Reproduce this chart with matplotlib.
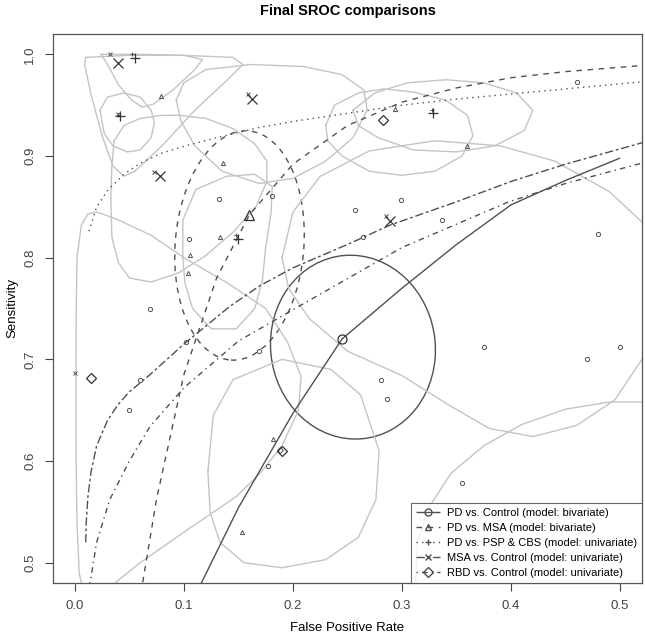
import numpy as np
import matplotlib
matplotlib.use("Agg")
import matplotlib.pyplot as plt
from matplotlib.patches import Ellipse
from matplotlib.lines import Line2D

plt.rcParams['font.family'] = ['Liberation Sans', 'DejaVu Sans']

# ---- data ----
labels = ["PD vs. Control (model: bivariate)",
          "PD vs. MSA (model: bivariate)",
          "PD vs. PSP & CBS (model: univariate)",
          "MSA vs. Control (model: univariate)",
          "RBD vs. Control (model: univariate)"]

# SROC curves (fpr, sens)
sroc_pd_ctrl = [(0.110, 0.466), (0.116, 0.480), (0.150, 0.554), (0.200, 0.647), (0.245, 0.720),
                (0.300, 0.770), (0.350, 0.813), (0.400, 0.852), (0.450, 0.876), (0.500, 0.898)]
sroc_pd_msa = [(0.060, 0.470), (0.062, 0.479), (0.075, 0.563), (0.100, 0.685), (0.130, 0.780),
               (0.160, 0.842), (0.200, 0.892), (0.250, 0.930), (0.300, 0.953), (0.350, 0.967),
               (0.400, 0.977), (0.450, 0.983), (0.520, 0.989)]
sroc_pd_psp = [(0.013, 0.826), (0.020, 0.850), (0.030, 0.866), (0.045, 0.882), (0.060, 0.893),
               (0.080, 0.903), (0.105, 0.911), (0.130, 0.918), (0.169, 0.928), (0.200, 0.934),
               (0.250, 0.942), (0.300, 0.950), (0.350, 0.956), (0.400, 0.961), (0.450, 0.966),
               (0.520, 0.973)]
sroc_msa_ctrl = [(0.010, 0.520), (0.0105, 0.540), (0.012, 0.565), (0.015, 0.590), (0.020, 0.615),
                 (0.030, 0.640), (0.040, 0.656), (0.050, 0.668), (0.069, 0.685), (0.100, 0.715),
                 (0.142, 0.752), (0.169, 0.772), (0.200, 0.790), (0.250, 0.813), (0.289, 0.832),
                 (0.350, 0.855), (0.400, 0.875), (0.450, 0.892), (0.520, 0.913)]
sroc_rbd_ctrl = [(0.012, 0.470), (0.014, 0.480), (0.020, 0.520), (0.032, 0.562), (0.050, 0.600),
                 (0.069, 0.634), (0.100, 0.672), (0.150, 0.718), (0.215, 0.758), (0.300, 0.810),
                 (0.398, 0.855), (0.450, 0.873), (0.520, 0.893)]

# confidence ellipses of the bivariate models: centre, width, height, angle
ell_pd_ctrl = (0.255, 0.712, 0.151, 0.181, 5)
ell_pd_msa = (0.151, 0.812, 0.118, 0.226, -4)

# grey confidence regions of single studies (outlines)
region_a = [(0.010, 0.997), (0.050, 0.999), (0.100, 0.999), (0.145, 0.997), (0.154, 0.990),
            (0.140, 0.975), (0.110, 0.945), (0.080, 0.910), (0.055, 0.885), (0.045, 0.880),
            (0.035, 0.890), (0.025, 0.920), (0.015, 0.960), (0.009, 0.990)]
region_b = [(0.024, 1.000), (0.060, 1.000), (0.100, 0.999), (0.117, 0.995), (0.110, 0.985),
            (0.090, 0.965), (0.072, 0.951), (0.062, 0.948), (0.052, 0.955), (0.040, 0.970),
            (0.030, 0.990)]
region_c = [(0.023, 0.945), (0.030, 0.958), (0.045, 0.962), (0.060, 0.958), (0.070, 0.945),
            (0.073, 0.933), (0.070, 0.918), (0.060, 0.906), (0.048, 0.904), (0.035, 0.910),
            (0.027, 0.922)]
region_d = [(0.093, 0.955), (0.100, 0.972), (0.120, 0.985), (0.162, 0.990), (0.210, 0.988),
            (0.245, 0.980), (0.265, 0.965), (0.268, 0.945), (0.255, 0.918), (0.230, 0.895),
            (0.200, 0.878), (0.169, 0.873), (0.135, 0.885), (0.110, 0.910), (0.097, 0.935)]
region_e = [(0.036, 0.915), (0.045, 0.930), (0.060, 0.937), (0.080, 0.940), (0.096, 0.940),
            (0.120, 0.937), (0.145, 0.927), (0.165, 0.912), (0.176, 0.895), (0.176, 0.875),
            (0.166, 0.850), (0.145, 0.825), (0.120, 0.802), (0.095, 0.785), (0.070, 0.776),
            (0.050, 0.780), (0.040, 0.795), (0.034, 0.820), (0.033, 0.860), (0.034, 0.890)]
region_f = [(0.190, 0.800), (0.200, 0.845), (0.225, 0.880), (0.270, 0.905), (0.330, 0.915),
            (0.390, 0.910), (0.440, 0.895), (0.490, 0.865), (0.530, 0.825), (0.540, 0.760),
            (0.520, 0.700), (0.495, 0.660), (0.460, 0.635), (0.420, 0.624), (0.380, 0.632),
            (0.343, 0.655), (0.300, 0.684), (0.250, 0.708), (0.215, 0.740), (0.196, 0.770)]
region_g = [(0.122, 0.590), (0.127, 0.645), (0.145, 0.680), (0.190, 0.700), (0.235, 0.690),
            (0.262, 0.665), (0.279, 0.610), (0.276, 0.562), (0.260, 0.525), (0.230, 0.503),
            (0.190, 0.495), (0.155, 0.500), (0.133, 0.520), (0.124, 0.550)]
region_j = [(0.230, 0.930), (0.238, 0.950), (0.260, 0.962), (0.283, 0.966), (0.310, 0.963),
            (0.340, 0.955), (0.360, 0.940), (0.365, 0.920), (0.355, 0.900), (0.330, 0.885),
            (0.300, 0.881), (0.270, 0.885), (0.245, 0.900), (0.232, 0.915)]
region_k = [(0.255, 0.945), (0.275, 0.962), (0.305, 0.972), (0.340, 0.975), (0.375, 0.972),
            (0.405, 0.962), (0.420, 0.945), (0.412, 0.925), (0.385, 0.910), (0.350, 0.904),
            (0.310, 0.906), (0.278, 0.918), (0.260, 0.930)]
region_l = [(0.099, 0.800), (0.099, 0.837), (0.111, 0.867), (0.139, 0.880), (0.165, 0.882),
            (0.181, 0.870), (0.180, 0.845), (0.175, 0.810), (0.172, 0.778), (0.165, 0.750),
            (0.148, 0.730), (0.125, 0.730), (0.108, 0.750), (0.101, 0.775)]
region_h = [(0.008, 0.470), (0.004, 0.490), (0.002, 0.540), (0.0012, 0.600), (0.0011, 0.680),
            (0.0013, 0.750), (0.002, 0.800), (0.006, 0.832), (0.012, 0.843), (0.020, 0.845),
            (0.038, 0.838), (0.070, 0.822), (0.100, 0.800), (0.140, 0.775), (0.175, 0.750),
            (0.195, 0.717), (0.2075, 0.683), (0.205, 0.650), (0.190, 0.615), (0.170, 0.588),
            (0.148, 0.565), (0.100, 0.530), (0.060, 0.500), (0.039, 0.482), (0.028, 0.470)]
region_i = [(0.312, 0.470), (0.314, 0.520), (0.325, 0.555), (0.345, 0.588), (0.375, 0.615),
            (0.410, 0.636), (0.450, 0.651), (0.490, 0.658), (0.530, 0.658)]
closed_regions = [region_a, region_b, region_c, region_d, region_e, region_f, region_g,
                  region_j, region_k, region_l]
open_regions = [region_h, region_i]

# study points (small) and single-study points (large)
pts_pd_ctrl = [(0.132, 0.858), (0.181, 0.861), (0.257, 0.847), (0.299, 0.857), (0.264, 0.820),
               (0.337, 0.837), (0.069, 0.750), (0.050, 0.650), (0.060, 0.680), (0.102, 0.717),
               (0.105, 0.818), (0.169, 0.708), (0.177, 0.595), (0.281, 0.680), (0.286, 0.661),
               (0.375, 0.712), (0.480, 0.823), (0.470, 0.700), (0.500, 0.712), (0.355, 0.578),
               (0.460, 0.973)]
pts_pd_msa = [(0.079, 0.959), (0.136, 0.893), (0.294, 0.946), (0.360, 0.910), (0.133, 0.820),
              (0.106, 0.803), (0.104, 0.785), (0.182, 0.622), (0.153, 0.530)]
pts_pd_psp = [(0.052, 1.000), (0.148, 0.822), (0.3275, 0.945), (0.040, 0.940)]
pts_msa_ctrl = [(0.032, 1.000), (0.073, 0.884), (0.159, 0.961), (0.285, 0.841), (0.000, 0.687),
                (0.040, 0.941)]
pts_rbd_ctrl = [(0.188, 0.611)]
sum_pd_ctrl = [(0.245, 0.720)]
sum_pd_msa = [(0.160, 0.842)]
sum_pd_psp = [(0.041, 0.939), (0.055, 0.996), (0.150, 0.818), (0.328, 0.942)]
sum_msa_ctrl = [(0.040, 0.9915), (0.078, 0.880), (0.162, 0.956), (0.289, 0.836)]
sum_rbd_ctrl = [(0.015, 0.682), (0.190, 0.610), (0.283, 0.935)]

# ---- drawing ----
W, H = 645, 637
fig = plt.figure(figsize=(W / 100, H / 100), dpi=100)
ax = fig.add_axes([53 / W, 1 - 583 / H, (642 - 53) / W, (583 - 34) / H])

grey = "#c4c4c4"
dark = "#505050"
for reg in closed_regions:
    xs = [p[0] for p in reg] + [reg[0][0]]
    ys = [p[1] for p in reg] + [reg[0][1]]
    ax.plot(xs, ys, color=grey, lw=1.0)
for reg in open_regions:
    ax.plot([p[0] for p in reg], [p[1] for p in reg], color=grey, lw=1.0)

# R line types: solid, dashed, dotted, twodash, dotdash
styles = [(0, ()), (0, (4, 4)), (0, (1, 3)), (0, (6, 2, 2, 2)), (0, (1, 3, 4, 3))]
curves = [sroc_pd_ctrl, sroc_pd_msa, sroc_pd_psp, sroc_msa_ctrl, sroc_rbd_ctrl]
for cur, ls in zip(curves, styles):
    ax.plot([p[0] for p in cur], [p[1] for p in cur], color=dark, lw=1.0, linestyle=ls)

for ell, ls in zip([ell_pd_ctrl, ell_pd_msa], [styles[0], styles[1]]):
    cx, cy, w, h, ang = ell
    ax.add_patch(Ellipse((cx, cy), w, h, angle=ang, fill=False, edgecolor=dark,
                         lw=1.0, linestyle=ls))

markers = ['o', '^', '+', 'x', 'D']
small = [pts_pd_ctrl, pts_pd_msa, pts_pd_psp, pts_msa_ctrl, pts_rbd_ctrl]
big = [sum_pd_ctrl, sum_pd_msa, sum_pd_psp, sum_msa_ctrl, sum_rbd_ctrl]
for m, s, b in zip(markers, small, big):
    ax.plot([p[0] for p in s], [p[1] for p in s], linestyle='none', marker=m,
            ms=3, mfc='none', mec=dark, mew=0.7)
    ax.plot([p[0] for p in b], [p[1] for p in b], linestyle='none', marker=m,
            ms=6.5 if m != 'D' else 5, mfc='none', mec="#333333", mew=0.9)

ax.set_xlim(-0.02, 0.52)
ax.set_ylim(0.48, 1.02)
ax.set_xticks([0.0, 0.1, 0.2, 0.3, 0.4, 0.5])
ax.set_xticklabels(["0.0", "0.1", "0.2", "0.3", "0.4", "0.5"])
ax.set_yticks([0.5, 0.6, 0.7, 0.8, 0.9, 1.0])
ax.set_yticklabels(["0.5", "0.6", "0.7", "0.8", "0.9", "1.0"], rotation=90, va='center')
ax.tick_params(length=6, width=0.8, colors="#444444", labelsize=9.5, pad=6)
for sp in ax.spines.values():
    sp.set_color("#555555")
    sp.set_linewidth(0.9)

cx_axes = (53 + 642) / 2 / W
fig.text(cx_axes, 1 - 628 / H, "False Positive Rate", fontsize=9.5, ha='center', va='center')
fig.text(12 / W, 1 - 308 / H, "Sensitivity", fontsize=9.5, ha='center', va='center',
         rotation=90)
fig.text(cx_axes, 1 - 11 / H, "Final SROC comparisons", fontsize=10.5, fontweight='bold',
         ha='center', va='center')

handles = []
for m, ls in zip(markers, styles):
    handles.append(Line2D([0], [0], color=dark, lw=1.0, linestyle=ls, marker=m, ms=5,
                          mfc='none', mec=dark))
leg = ax.legend(handles, labels, loc='lower right', borderaxespad=0, fontsize=8.0,
                frameon=True, fancybox=False, edgecolor="#444444", handlelength=2.2,
                handletextpad=0.6, labelspacing=0.45, borderpad=0.45)
leg.get_frame().set_linewidth(0.8)

fig.savefig("out.png", dpi=100)
